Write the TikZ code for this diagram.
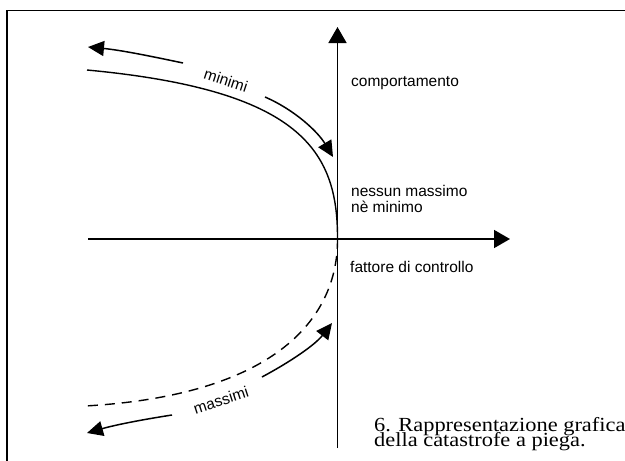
\documentclass[tikz,border=0pt]{standalone}
\usepackage{fontspec}
\newfontfamily\labfont{Liberation Sans}
\newfontfamily\capfont[FakeStretch=1.12]{Liberation Serif}
\usetikzlibrary{arrows.meta}
\begin{document}
\begin{tikzpicture}[x=1pt,y=-1pt,
  axis/.style={line width=1.6pt,-{Triangle[length=16pt,width=18pt]}},
  curve/.style={line width=1.4pt},
  bigarrow/.style={line width=1.5pt,-{Triangle[length=16pt,width=15pt]}},
  lab/.style={font=\labfont\fontsize{15.5}{16}\selectfont,inner sep=0pt},
  captext/.style={font=\capfont\fontsize{20}{15}\selectfont,inner sep=0pt,anchor=base west}]
\useasboundingbox (0,0) rectangle (625,461);
% frame
\draw[line width=1.2pt] (7,461) -- (7,10.5) -- (625,10.5);
% axes
\coordinate (o) at (337.5,239);
\coordinate (ybot) at (337.5,448);
\coordinate (ytop) at (337.5,27);
\coordinate (xl) at (88,239);
\coordinate (xr) at (510,239);
\draw[axis] (ybot) -- (ytop);
\draw[axis] (xl) -- (xr);
% fold curve
\coordinate (up) at (87,70);
\coordinate (lo) at (85,406);
\draw[curve] (o) .. controls (338,150) and (300,90) .. (up);
\draw[curve,dash pattern=on 10pt off 7pt] (o) .. controls (338,315) and (280,395) .. (lo);
% minimi arrows
\coordinate (m1s) at (183,63);
\coordinate (m1e) at (88,47);
\coordinate (m2s) at (265,97);
\coordinate (m2e) at (333,157);
\draw[bigarrow] (m1s) .. controls (150,56) and (120,50) .. (m1e);
\draw[bigarrow] (m2s) .. controls (295,110) and (318,132) .. (m2e);
\node[lab,rotate=-18] (minimi) at (226,80) {minimi};
% massimi arrows
\coordinate (M1s) at (262,377);
\coordinate (M1e) at (332,323);
\coordinate (M2s) at (172,415);
\coordinate (M2e) at (87,433);
\draw[bigarrow] (M1s) .. controls (290,362) and (315,345) .. (M1e);
\draw[bigarrow] (M2s) .. controls (140,420) and (115,425) .. (M2e);
\node[lab,rotate=18] (massimi) at (221,400) {massimi};
% labels
\node[lab,anchor=base west] (comp) at (351,86) {comportamento};
\node[lab,anchor=base west] (ness1) at (351,196) {nessun massimo};
\node[lab,anchor=base west] (ness2) at (351,212) {nè minimo};
\node[lab,anchor=base west] (fatt) at (350,272) {fattore di controllo};
% caption
\node[captext] (cap1) at (374,431.7) {6. Rappresentazione grafica};
\node[captext] (cap2) at (374,446.7) {della catastrofe a piega.};
\end{tikzpicture}
\end{document}
